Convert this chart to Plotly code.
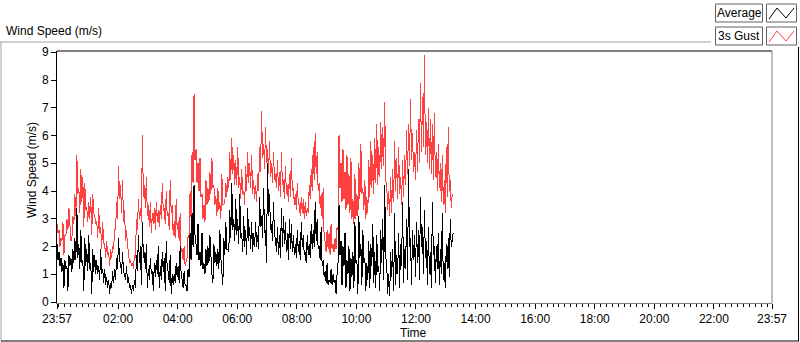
import plotly.graph_objects as go
import pandas as pd

# ---------------- data ----------------
START = "2024-01-01 23:57"
STEP_MIN = 2
AVERAGE = [
    2.1, 1.5, 1.8, 1.3, 1.6, 1.1, 1.4, 0.5, 1.5, 1.2, 1.3, 0.4, 1.7, 1.3, 1.6, 1.1, 1.9, 1.4, 2.3, 1.5,
    3.4, 1.6, 2.1, 1.2, 2.6, 1.4, 1.5, 0.4, 2.3, 1.3, 1.9, 1.1, 2.4, 1.2, 1.4, 0.3, 1.9, 1.1, 1.7, 1.0,
    1.5, 1.0, 1.3, 0.8, 1.9, 1.0, 1.2, 0.7, 1.2, 0.6, 0.9, 0.5, 0.8, 0.3, 0.7, 0.5, 1.1, 0.7, 1.2, 0.8,
    1.6, 1.2, 2.3, 1.5, 1.4, 1.0, 1.8, 1.1, 1.0, 0.8, 1.3, 0.7, 0.9, 0.5, 0.6, 0.3, 0.6, 0.4, 0.8, 0.5,
    1.7, 1.1, 2.4, 1.4, 2.0, 0.6, 2.9, 1.6, 1.8, 1.2, 2.1, 0.5, 1.2, 0.8, 1.6, 1.0, 1.1, 0.4, 1.4, 0.9,
    1.5, 1.0, 2.0, 0.5, 1.3, 0.8, 1.8, 1.1, 1.6, 0.4, 2.2, 1.2, 1.1, 0.7, 1.7, 0.3, 1.0, 0.6, 1.0, 0.7,
    1.4, 0.9, 1.3, 0.7, 2.0, 1.0, 0.8, 0.5, 1.1, 0.6, 0.6, 0.4, 1.2, 0.9, 2.5, 1.5, 3.2, 2.0, 4.2, 2.4,
    2.1, 1.7, 2.8, 1.5, 1.8, 1.3, 2.5, 1.2, 1.4, 1.0, 1.9, 1.3, 2.0, 1.4, 2.4, 1.3, 1.0, 0.7, 2.1, 1.4,
    1.8, 1.3, 1.9, 1.2, 2.6, 1.6, 1.1, 0.6, 2.3, 1.7, 2.9, 1.9, 1.9, 1.8, 3.3, 2.3, 4.3, 2.6, 3.0, 2.2,
    3.7, 2.4, 3.0, 2.1, 3.9, 2.3, 2.5, 1.8, 3.1, 2.0, 2.6, 1.7, 3.4, 2.2, 2.7, 1.9, 2.9, 1.8, 2.5, 2.0,
    2.9, 2.0, 2.4, 1.9, 3.8, 2.7, 3.1, 2.3, 4.1, 2.5, 2.6, 1.4, 5.0, 3.1, 3.9, 2.6, 2.8, 2.2, 3.6, 2.4,
    2.3, 1.8, 2.7, 1.7, 2.4, 1.6, 3.4, 2.0, 3.1, 2.1, 2.9, 1.8, 2.5, 1.5, 3.0, 1.9, 2.8, 1.8, 2.4, 1.7,
    2.1, 1.6, 2.6, 1.8, 2.2, 1.5, 2.9, 2.0, 2.4, 1.7, 1.8, 1.4, 2.4, 1.7, 2.1, 1.6, 2.8, 1.9, 2.6, 2.0,
    3.6, 2.2, 3.0, 1.9, 2.0, 1.5, 2.7, 1.3, 1.5, 0.9, 1.1, 0.7, 1.4, 0.6, 0.8, 0.7, 1.2, 0.6, 1.0, 0.7,
    0.8, 0.3, 1.0, 1.4, 3.5, 1.7, 2.2, 0.6, 2.0, 1.3, 2.5, 0.5, 1.5, 1.0, 2.0, 0.4, 1.6, 0.9, 1.8, 0.5,
    2.9, 1.4, 1.5, 0.3, 3.1, 1.6, 2.1, 0.6, 2.6, 1.4, 1.6, 0.4, 1.4, 0.8, 2.2, 0.5, 2.1, 1.3, 2.8, 0.7,
    1.8, 0.5, 2.4, 1.1, 1.3, 0.4, 2.6, 1.4, 3.0, 0.8, 4.2, 1.6, 1.4, 0.3, 1.0, 0.2, 1.8, 0.9, 1.9, 0.4,
    3.2, 0.6, 1.7, 1.0, 2.5, 0.5, 2.1, 1.3, 3.6, 0.7, 1.9, 1.2, 3.0, 0.8, 4.8, 2.0, 2.3, 0.6, 2.6, 1.5,
    2.4, 0.9, 2.9, 1.4, 2.6, 0.8, 3.8, 2.0, 2.7, 1.0, 3.3, 1.6, 2.2, 0.6, 2.7, 1.0, 1.8, 0.5, 3.6, 1.7,
    2.0, 0.7, 2.0, 1.2, 2.5, 0.6, 1.9, 1.0, 3.2, 0.8, 1.4, 0.5, 2.1, 1.2, 2.3, 0.9, 3.0, 2.0, 2.2, 2.5,
]
GUST = [
    2.8, 2.5, 2.6, 2.0, 2.3, 2.2, 2.9, 1.7, 2.4, 2.4, 3.0, 2.6, 3.4, 2.7, 2.2, 2.3, 3.1, 2.8, 3.9, 3.1,
    5.3, 3.9, 4.1, 3.2, 4.8, 3.6, 4.5, 2.7, 4.3, 3.3, 3.4, 2.9, 3.6, 3.0, 3.8, 2.4, 3.9, 3.2, 3.1, 2.8,
    2.9, 2.3, 3.4, 2.5, 2.7, 1.9, 2.9, 2.1, 2.1, 1.6, 2.2, 1.7, 1.8, 1.3, 1.9, 1.6, 2.0, 1.9, 2.6, 2.6,
    3.6, 3.0, 4.9, 3.7, 4.2, 3.2, 4.4, 2.9, 3.3, 2.2, 2.6, 2.0, 1.8, 1.4, 1.5, 1.3, 1.4, 1.2, 1.7, 1.6,
    3.0, 2.6, 3.7, 3.0, 3.4, 2.9, 6.0, 3.8, 4.2, 3.4, 4.5, 3.1, 3.5, 2.7, 3.6, 2.5, 3.2, 2.8, 3.4, 2.6,
    3.6, 2.9, 3.3, 2.7, 3.5, 3.0, 4.3, 3.3, 3.4, 2.8, 4.0, 3.1, 3.2, 2.6, 4.4, 3.2, 3.5, 2.4, 2.9, 2.3,
    3.7, 2.6, 2.9, 2.2, 3.2, 1.8, 1.9, 1.5, 2.0, 1.3, 1.5, 1.6, 2.4, 2.3, 4.0, 3.0, 5.4, 4.3, 7.5, 5.1,
    5.5, 4.3, 5.0, 4.0, 5.2, 3.8, 3.9, 3.0, 3.5, 2.9, 4.4, 3.5, 4.1, 3.6, 4.7, 3.9, 5.2, 4.1, 4.2, 3.5,
    3.8, 3.1, 4.1, 3.3, 3.6, 3.0, 4.6, 3.5, 3.5, 3.6, 4.3, 3.8, 4.5, 4.1, 5.4, 4.4, 5.9, 4.6, 5.3, 4.2,
    5.1, 4.2, 5.6, 4.1, 4.5, 3.7, 4.8, 3.9, 4.0, 3.5, 4.9, 4.0, 5.4, 4.3, 5.0, 4.1, 5.3, 3.9, 4.4, 3.7,
    4.2, 3.6, 4.6, 4.0, 5.6, 4.7, 6.9, 5.2, 5.7, 4.8, 6.3, 5.0, 5.5, 4.6, 5.8, 4.5, 5.0, 4.3, 5.4, 4.4,
    4.6, 4.1, 5.1, 4.0, 4.7, 3.8, 5.4, 4.2, 4.4, 3.7, 4.9, 3.9, 4.2, 3.6, 4.6, 3.8, 5.2, 4.0, 4.1, 3.5,
    3.9, 3.3, 4.3, 3.5, 3.5, 3.1, 3.8, 3.2, 3.7, 3.0, 3.6, 3.1, 3.4, 3.2, 4.2, 3.7, 4.8, 4.0, 5.6, 4.4,
    6.1, 4.6, 5.4, 4.0, 4.3, 3.4, 3.9, 3.0, 4.1, 2.3, 2.2, 1.8, 2.6, 1.9, 2.5, 1.7, 2.8, 1.9, 2.1, 1.8,
    2.3, 1.9, 2.7, 2.6, 6.0, 4.1, 5.0, 3.6, 5.5, 3.7, 4.7, 3.3, 5.3, 3.5, 4.6, 3.2, 5.2, 3.0, 3.7, 2.8,
    4.6, 3.0, 3.9, 3.1, 5.0, 3.7, 5.7, 3.9, 4.1, 3.3, 4.4, 3.0, 3.8, 3.2, 5.1, 3.8, 5.8, 4.1, 5.3, 3.9,
    5.9, 4.3, 6.4, 4.2, 5.6, 4.5, 6.5, 4.8, 6.3, 4.9, 7.2, 4.4, 4.2, 3.3, 4.0, 3.1, 4.5, 3.2, 4.8, 3.6,
    5.8, 4.0, 5.2, 3.7, 5.6, 3.9, 4.5, 3.5, 5.1, 3.8, 5.3, 4.2, 6.2, 4.6, 6.4, 4.9, 7.3, 5.1, 6.1, 4.7,
    5.4, 4.4, 6.2, 4.7, 6.6, 5.0, 7.9, 5.4, 7.4, 5.6, 8.9, 5.3, 6.5, 5.0, 7.0, 4.8, 6.6, 4.6, 6.4, 4.4,
    6.8, 4.5, 5.4, 4.0, 5.7, 4.1, 5.0, 3.6, 5.3, 3.5, 4.4, 3.2, 5.6, 3.8, 6.3, 4.0, 4.4, 3.4, 3.9, 3.8,
]
X_RANGE = ["2024-01-01 23:57", "2024-01-02 23:57"]
TICK_VALS = ["2024-01-01 23:57", "2024-01-02 02:00", "2024-01-02 04:00", "2024-01-02 06:00",
             "2024-01-02 08:00", "2024-01-02 10:00", "2024-01-02 12:00", "2024-01-02 14:00",
             "2024-01-02 16:00", "2024-01-02 18:00", "2024-01-02 20:00", "2024-01-02 22:00",
             "2024-01-02 23:57"]
TICK_TEXT = ["23:57", "02:00", "04:00", "06:00", "08:00", "10:00", "12:00", "14:00",
             "16:00", "18:00", "20:00", "22:00", "23:57"]
SERIES_NAMES = ["Average", "3s Gust"]

times = pd.date_range(START, periods=len(GUST), freq=f"{STEP_MIN}min")

W, H = 800, 342
def px(x):
    return x / W
def py(y):
    return 1 - y / H

FONT = "Liberation Sans"
RED = "#ff4040"

fig = go.Figure()
fig.add_trace(go.Scatter(x=times, y=GUST, mode="lines", name=SERIES_NAMES[1],
                         line=dict(color=RED, width=1), showlegend=False))
fig.add_trace(go.Scatter(x=times, y=AVERAGE, mode="lines", name=SERIES_NAMES[0],
                         line=dict(color="black", width=1), showlegend=False))

L, R, T, B = 57, 772, 51, 303
shapes = []
# plot-area border (top black, right gray)
shapes.append(dict(type="line", xref="paper", yref="paper", x0=px(L), x1=px(R), y0=py(T), y1=py(T),
                   line=dict(color="black", width=1)))
shapes.append(dict(type="line", xref="paper", yref="paper", x0=px(R), x1=px(R), y0=py(T), y1=py(B),
                   line=dict(color="#808080", width=1)))
# outer frame
shapes.append(dict(type="line", xref="paper", yref="paper", x0=px(0), x1=px(711), y0=py(42), y1=py(42),
                   line=dict(color="#a0a0a0", width=1)))
shapes.append(dict(type="line", xref="paper", yref="paper", x0=px(1), x1=px(1), y0=py(42), y1=py(341),
                   line=dict(color="#a0a0a0", width=1)))
shapes.append(dict(type="line", xref="paper", yref="paper", x0=px(1), x1=px(799), y0=py(341), y1=py(341),
                   line=dict(color="black", width=1)))
shapes.append(dict(type="line", xref="paper", yref="paper", x0=px(798.5), x1=px(798.5), y0=py(47), y1=py(341),
                   line=dict(color="black", width=1)))

annotations = []
# legend boxes
rows = [(4, 22, "black"), (27, 45, RED)]
for (y0, y1, col), name in zip(rows, SERIES_NAMES):
    shapes.append(dict(type="rect", xref="paper", yref="paper", x0=px(715.5), x1=px(762.5),
                       y0=py(y1), y1=py(y0), line=dict(color="#606060", width=1), fillcolor="white"))
    shapes.append(dict(type="rect", xref="paper", yref="paper", x0=px(766.5), x1=px(796.5),
                       y0=py(y1), y1=py(y0), line=dict(color="#606060", width=1), fillcolor="white"))
    zig = [(769, y1 - 3), (777, y0 + 4), (786, y1 - 4), (794, y0 + 4)]
    path = "M " + " L ".join(f"{px(a)},{py(b)}" for a, b in zig)
    shapes.append(dict(type="path", xref="paper", yref="paper", path=path,
                       line=dict(color=col, width=1)))
    annotations.append(dict(text=name, xref="paper", yref="paper", x=px(739), y=py((y0 + y1) / 2),
                            xanchor="center", yanchor="middle", showarrow=False,
                            font=dict(family=FONT, size=12, color="black")))

annotations.append(dict(text="Wind Speed (m/s)", xref="paper", yref="paper", x=px(4), y=py(31),
                        xanchor="left", yanchor="middle", showarrow=False,
                        font=dict(family=FONT, size=12, color="black")))
annotations.append(dict(text="Wind Speed (m/s)", xref="paper", yref="paper", x=px(32), y=py(170),
                        xanchor="center", yanchor="middle", textangle=-90, showarrow=False,
                        font=dict(family=FONT, size=12, color="black")))
annotations.append(dict(text="Time", xref="paper", yref="paper", x=px(413), y=py(333),
                        xanchor="center", yanchor="middle", showarrow=False,
                        font=dict(family=FONT, size=12, color="black")))

fig.update_layout(
    width=W, height=H, margin=dict(l=0, r=0, t=0, b=0),
    paper_bgcolor="white", plot_bgcolor="white",
    template="none", showlegend=False,
    font=dict(family=FONT, size=12, color="black"),
    shapes=shapes, annotations=annotations,
    xaxis=dict(domain=[px(L), px(R)], type="date", range=X_RANGE,
               tickmode="array", tickvals=TICK_VALS, ticktext=TICK_TEXT,
               ticks="outside", ticklen=5, tickcolor="black", tickwidth=1,
               showline=True, linecolor="#808080", linewidth=1,
               showgrid=False, zeroline=False, automargin=False,
               tickfont=dict(family=FONT, size=12, color="black"),
               minor=dict(ticks="outside", ticklen=3, tickcolor="black", tickwidth=1,
                          dtick=12 * 60 * 1000, tick0="2024-01-02 00:00", showgrid=False)),
    yaxis=dict(domain=[py(B), py(T)], range=[-0.036, 9.045], dtick=1, tick0=0,
               ticks="outside", ticklen=5, tickcolor="black", tickwidth=1,
               showline=True, linecolor="black", linewidth=1,
               showgrid=False, zeroline=False, automargin=False,
               tickfont=dict(family=FONT, size=12, color="black")),
)

POST = (
    "document.body.style.margin='0';document.body.style.padding='0';"
    "var s=document.createElement('style');"
    "s.textContent='.scatterlayer .js-line{shape-rendering:crispEdges;}';"
    "document.head.appendChild(s);"
)
fig.write_html("out.html", config={"displayModeBar": False}, post_script=POST)
